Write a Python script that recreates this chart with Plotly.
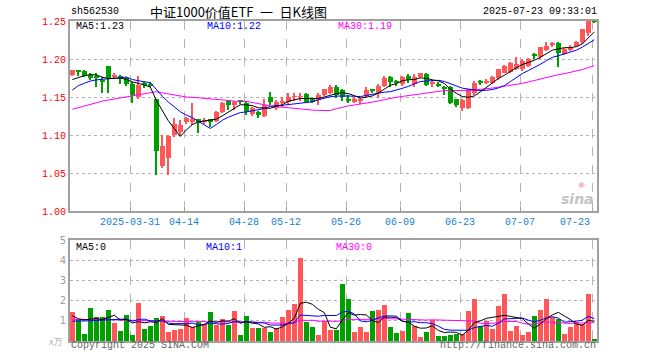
import plotly.graph_objects as go
import pandas as pd

# ---------------- data ----------------
tick_idx = [10, 19, 29, 36, 46, 55, 65, 75, 87]
tick_labels = ["2025-03-31", "04-14", "04-28", "05-12", "05-26", "06-09", "06-23", "07-07", "07-23"]

opens = [1.179, 1.1845, 1.184, 1.179, 1.1776, 1.1705, 1.1908, 1.176, 1.178, 1.1746,
         1.1671, 1.150, 1.168, 1.167, 1.147, 1.0586, 1.0693, 1.100, 1.104, 1.117,
         1.1175, 1.1206, 1.1175, 1.1206, 1.119, 1.1307, 1.1451, 1.1395, 1.1445, 1.142,
         1.127, 1.1307, 1.125, 1.1504, 1.1351, 1.143, 1.1438, 1.150, 1.150, 1.1535,
         1.1483, 1.146, 1.1526, 1.1549, 1.1636, 1.159, 1.147, 1.144, 1.145, 1.1513,
         1.159, 1.1549, 1.1649, 1.176, 1.170, 1.1671, 1.178, 1.1671, 1.176, 1.1803,
         1.1672, 1.1655, 1.1627, 1.1627, 1.147, 1.1351, 1.136, 1.155, 1.1695, 1.169,
         1.168, 1.1746, 1.182, 1.1833, 1.1864, 1.1864, 1.1908, 1.2055, 1.2022, 1.2118,
         1.218, 1.2207, 1.2066, 1.2118, 1.2171, 1.2228, 1.2338, 1.251]
highs = [1.186, 1.1855, 1.185, 1.182, 1.182, 1.1767, 1.191, 1.181, 1.179, 1.176,
         1.170, 1.177, 1.171, 1.170, 1.148, 1.100, 1.100, 1.122, 1.120, 1.124,
         1.1417, 1.121, 1.123, 1.1215, 1.132, 1.1438, 1.1461, 1.145, 1.146, 1.145,
         1.137, 1.131, 1.147, 1.156, 1.146, 1.1495, 1.1557, 1.1557, 1.1557, 1.155,
         1.149, 1.155, 1.161, 1.166, 1.166, 1.161, 1.1526, 1.150, 1.149, 1.163,
         1.161, 1.167, 1.177, 1.178, 1.172, 1.178, 1.180, 1.180, 1.182, 1.181,
         1.171, 1.170, 1.164, 1.164, 1.148, 1.147, 1.161, 1.171, 1.172, 1.174,
         1.178, 1.187, 1.192, 1.196, 1.203, 1.200, 1.201, 1.208, 1.216, 1.222,
         1.222, 1.222, 1.215, 1.219, 1.224, 1.240, 1.252, 1.255]
lows = [1.178, 1.1775, 1.176, 1.1725, 1.1636, 1.155, 1.155, 1.1755, 1.1672, 1.1645,
        1.1425, 1.148, 1.162, 1.163, 1.0474, 1.0566, 1.0474, 1.098, 1.099, 1.115,
        1.1132, 1.103, 1.115, 1.110, 1.117, 1.129, 1.1329, 1.1329, 1.141, 1.126,
        1.125, 1.122, 1.124, 1.1395, 1.133, 1.1375, 1.140, 1.1447, 1.145, 1.143,
        1.142, 1.1395, 1.151, 1.154, 1.149, 1.145, 1.142, 1.142, 1.141, 1.150,
        1.155, 1.149, 1.163, 1.163, 1.165, 1.165, 1.1684, 1.163, 1.1755, 1.164,
        1.1635, 1.163, 1.1526, 1.141, 1.137, 1.132, 1.134, 1.153, 1.166, 1.167,
        1.167, 1.173, 1.181, 1.182, 1.185, 1.184, 1.189, 1.200, 1.200, 1.210,
        1.216, 1.190, 1.205, 1.211, 1.216, 1.220, 1.230, 1.247]
closes = [1.185, 1.184, 1.177, 1.175, 1.1746, 1.170, 1.1746, 1.1789, 1.176, 1.1671,
          1.1526, 1.1658, 1.1658, 1.1645, 1.0794, 1.0855, 1.0987, 1.114, 1.113, 1.122,
          1.1206, 1.1162, 1.1195, 1.1175, 1.1307, 1.1417, 1.1395, 1.1438, 1.1435, 1.130,
          1.136, 1.1263, 1.1395, 1.1438, 1.1438, 1.1445, 1.1504, 1.151, 1.1508, 1.1438,
          1.143, 1.1526, 1.160, 1.1636, 1.1526, 1.150, 1.146, 1.147, 1.147, 1.1588,
          1.1583, 1.1649, 1.1754, 1.170, 1.1695, 1.1767, 1.172, 1.1767, 1.181, 1.1658,
          1.1678, 1.165, 1.160, 1.1425, 1.1395, 1.146, 1.160, 1.169, 1.169, 1.170,
          1.1767, 1.1864, 1.1908, 1.1951, 1.1934, 1.1978, 1.1996, 1.205, 1.2154, 1.2171,
          1.2207, 1.2083, 1.2128, 1.2162, 1.2228, 1.239, 1.251, 1.249]
volumes = [1.42, 1.03, 0.33, 1.62, 1.17, 1.17, 1.53, 0.88, 0.48, 1.28,
           0.28, 1.88, 0.58, 0.73, 1.12, 1.23, 0.45, 0.53, 0.58, 1.12,
           0.67, 0.92, 0.83, 1.42, 0.78, 1.07, 0.78, 1.48, 0.28, 1.23,
           0.63, 0.62, 0.62, 0.43, 0.65, 1.18, 1.53, 1.83, 4.13, 0.93,
           0.68, 0.28, 1.00, 0.53, 0.53, 2.83, 2.08, 0.43, 0.68, 0.43,
           1.48, 1.53, 1.78, 0.68, 0.38, 0.48, 1.38, 0.75, 0.18, 0.43,
           1.03, 0.23, 0.23, 0.30, 0.35, 0.33, 1.48, 2.08, 0.73, 0.98,
           0.58, 1.73, 2.33, 0.48, 0.73, 0.28, 0.43, 1.23, 1.53, 2.08,
           1.18, 1.08, 0.33, 0.68, 0.95, 0.83, 2.33, 0.08]

# moving-average values at the start of the window (read from the picture,
# they depend on days before the first candle)
ma5_head = [1.173, 1.176, 1.178, 1.1795]
ma10_head = [1.159, 1.165, 1.168, 1.171, 1.1725, 1.1735, 1.174, 1.1745, 1.175]
ma30_head = [1.1338, 1.136, 1.1385, 1.1405, 1.1425, 1.1445, 1.146, 1.1475, 1.149, 1.1505,
             1.152, 1.1535, 1.155, 1.1565, 1.157, 1.1555, 1.154, 1.1525, 1.151, 1.150,
             1.1496, 1.149, 1.1485, 1.148, 1.1475, 1.1465, 1.1455, 1.1445, 1.1438]
vma5_head = [1.25, 1.10, 1.05, 1.10]
vma10_head = [0.98, 0.98, 1.00, 1.00, 1.02, 1.03, 1.05, 1.05, 1.05]
vma30_head = [1.07, 1.07, 1.07, 1.07, 1.07, 1.07, 1.06, 1.05, 1.04, 1.03,
              1.02, 1.01, 1.00, 0.99, 0.98, 0.97, 0.96, 0.96, 0.96, 0.96,
              0.96, 0.96, 0.96, 0.96, 0.96, 0.96, 0.96, 0.96, 0.96]

# ---------------- derived ----------------
n = len(closes)
idx = list(range(n))
RED = "#ff5757"
GREEN = "#00a000"
up = [c >= o for o, c in zip(opens, closes)]
colors = [RED if u else GREEN for u in up]
body_base = [min(o, c) for o, c in zip(opens, closes)]
body_h = [max(abs(c - o), 0.0013) for o, c in zip(opens, closes)]
wick_h = [h - l for h, l in zip(highs, lows)]


def moving(values, window, head):
    s = pd.Series(values).rolling(window).mean().tolist()
    return head + s[window - 1:]


ma5 = moving(closes, 5, ma5_head)
ma10 = moving(closes, 10, ma10_head)
ma30 = moving(closes, 30, ma30_head)
vma5 = moving(volumes, 5, vma5_head)
vma10 = moving(volumes, 10, vma10_head)
vma30 = moving(volumes, 30, vma30_head)

W, H = 660, 360
LEFT, RIGHT = 70, 597
P_TOP, P_BOT = 21, 211
V_TOP, V_BOT = 240, 341
OFF = -0.38  # candles start right of the date gridline
XR = [-0.383, 87.45]
MONO = "Liberation Mono, DejaVu Sans Mono, monospace"

fig = go.Figure()
fig.add_trace(go.Bar(x=idx, y=wick_h, base=lows, width=0.17, marker=dict(color=colors, line=dict(width=0)),
                     xaxis="x", yaxis="y"))
fig.add_trace(go.Bar(x=idx, y=body_h, base=body_base, width=0.83, marker=dict(color=colors, line=dict(width=0)),
                     xaxis="x", yaxis="y"))
for vals, col in [(ma30, "#ff00ff"), (ma10, "#0000ff"), (ma5, "#000000")]:
    fig.add_trace(go.Scatter(x=idx, y=vals, mode="lines", line=dict(color=col, width=1),
                             xaxis="x", yaxis="y"))
fig.add_trace(go.Bar(x=idx, y=volumes, width=0.83, marker=dict(color=colors, line=dict(width=0)),
                     xaxis="x2", yaxis="y2"))
for vals, col in [(vma30, "#ff00ff"), (vma10, "#0000ff"), (vma5, "#000000")]:
    fig.add_trace(go.Scatter(x=idx, y=vals, mode="lines", line=dict(color=col, width=1),
                             xaxis="x2", yaxis="y2"))

tickvals = [t + OFF for t in tick_idx]
ticktext = tick_labels[:-1] + [""]

xcommon = dict(range=XR, domain=[LEFT / W, RIGHT / W], tickvals=tickvals, showgrid=True,
               gridcolor="#b4b4b4", griddash="dash", gridwidth=1, showline=True, mirror=True,
               linecolor="#a0a0a0", linewidth=2, zeroline=False, fixedrange=True, automargin=False)
fig.update_layout(
    template="none",
    width=W, height=H, autosize=False, margin=dict(l=0, r=0, t=0, b=0, pad=0),
    paper_bgcolor="white", plot_bgcolor="white", showlegend=False, hovermode=False,
    barmode="overlay", bargap=0,
    xaxis=dict(**xcommon, ticktext=ticktext, ticks="inside", ticklen=3, tickcolor="#a0a0a0",
               tickfont=dict(family=MONO, size=10, color="#1a7fcf")),
    yaxis=dict(range=[1.0, 1.25], domain=[1 - P_BOT / H, 1 - P_TOP / H],
               tickvals=[1.0, 1.05, 1.10, 1.15, 1.20, 1.25],
               ticktext=["1.00", "1.05", "1.10", "1.15", "1.20", "1.25"],
               tickfont=dict(family=MONO, size=10, color="#ff0000"),
               showgrid=True, gridcolor="#b4b4b4", griddash="dot", showline=True, mirror=True,
               linecolor="#a0a0a0", linewidth=2, zeroline=False, ticks="", fixedrange=True,
               automargin=False),
    xaxis2=dict(**xcommon, anchor="y2", showticklabels=False, ticks=""),
    yaxis2=dict(range=[0, 5], domain=[1 - V_BOT / H, 1 - V_TOP / H], anchor="x2",
                tickvals=[1, 2, 3, 4, 5], ticktext=["1", "2", "3", "4", "5"],
                tickfont=dict(family="DejaVu Sans, sans-serif", size=10, color="#a0a0a0"),
                showgrid=True, gridcolor="#b4b4b4", griddash="dot", showline=True, mirror=True,
                linecolor="#a0a0a0", linewidth=2, zeroline=False, ticks="", fixedrange=True,
                automargin=False),
)


def note(text, x, y, anchor="left", color="#000000", size=10, family=MONO, yanchor="middle"):
    fig.add_annotation(text=text, x=x / W, y=1 - y / H, xref="paper", yref="paper",
                       xanchor=anchor, yanchor=yanchor, showarrow=False,
                       font=dict(family=family, size=size, color=color))


note("sh562530", 69, 12)
note("中证1000价值ETF\u2002一\u2002日K线图", 238, 12, anchor="center", size=13,
     family="Noto Sans CJK SC, sans-serif")
note("2025-07-23 09:33:01", 599, 12, anchor="right")
note("MA5:" + f"{ma5[-1]:.3f}"[:4], 74, 27)
note("MA10:" + f"{ma10[-1]:.3f}"[:4], 205, 27, color="#0000ff")
note("MA30:" + f"{ma30[-1]:.3f}"[:4], 336, 27, color="#ff00ff")
note("MA5:0", 74, 247)
note("MA10:1", 204, 247, color="#0000ff")
note("MA30:0", 334, 247, color="#ff00ff")
note("Copyright 2025 SINA.COM", 69, 345, color="#666666")
note("http://finance.sina.com.cn", 598, 345, anchor="right", color="#666666")
note("x万", 64, 341, anchor="right", color="#b0b0b0", size=9, family="Noto Sans CJK SC, sans-serif")
note("<b><i>sina</i></b>", 596, 199, anchor="right", color="#c4c4c4", size=14,
     family="DejaVu Sans, sans-serif")
note("◉", 581, 184, anchor="center", color="#f4b4b4", size=8, family="DejaVu Sans, sans-serif")

# last date label is kept inside the plot, right-aligned at its gridline
fig.add_annotation(text=tick_labels[-1], x=tick_idx[-1] + OFF, xref="x", y=1 - 222 / H, yref="paper",
                   xanchor="right", yanchor="middle", showarrow=False,
                   font=dict(family=MONO, size=10, color="#1a7fcf"))

# the page's default body margin would shift the whole chart by 8px
fig.write_html("out.html", config={"displayModeBar": False},
               post_script="document.body.style.margin='0px';")
